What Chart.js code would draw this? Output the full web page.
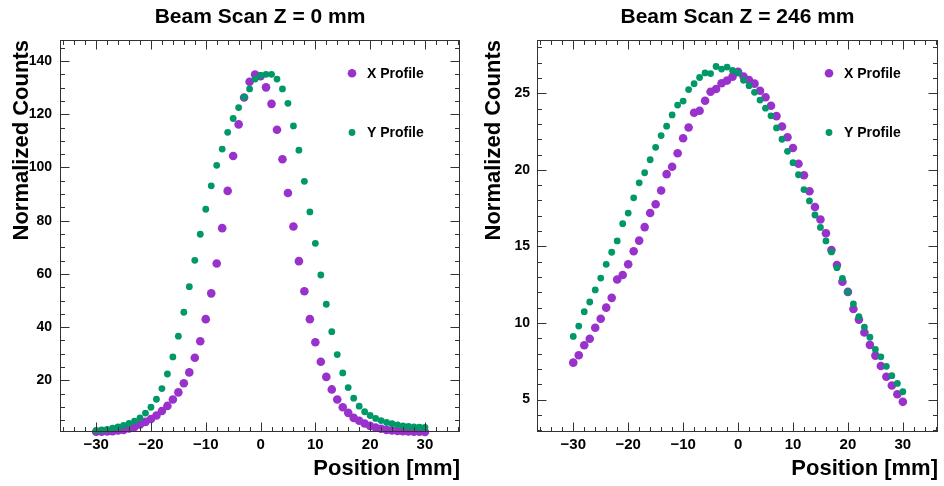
<!DOCTYPE html>
<html><head><meta charset="utf-8">
<script src="https://cdn.jsdelivr.net/npm/chart.js@4.4.1/dist/chart.umd.min.js"></script>
<style>
html,body{margin:0;padding:0;background:#fff;}
#wrap{display:flex;width:944px;height:486px;background:#fff;}
canvas{display:block;}
</style>
</head><body>
<div id="wrap"><canvas id="c0" width="472" height="486"></canvas><canvas id="c1" width="472" height="486"></canvas></div>
<script>
// ---------- data ----------
const positions = [-30,-29,-28,-27,-26,-25,-24,-23,-22,-21,-20,-19,-18,-17,-16,-15,-14,-13,-12,-11,-10,-9,-8,-7,-6,-5,-4,-3,-2,-1,0,1,2,3,4,5,6,7,8,9,10,11,12,13,14,15,16,17,18,19,20,21,22,23,24,25,26,27,28,29,30];

const xProfileZ0 = [0.7,0.7,0.8,0.9,1.2,1.4,1.9,2.5,3.4,4.4,5.5,6.8,8.5,10.4,12.8,15.5,18.9,23.0,28.5,34.7,43.0,52.7,63.9,77.2,91.2,104.3,116.2,126.3,132.2,134.9,134.3,130.1,123.9,114.2,103.1,90.4,77.8,64.8,53.5,43.0,34.3,27.0,21.3,16.6,12.8,9.9,7.8,5.9,4.8,3.8,2.9,2.3,1.8,1.4,1.2,1.0,0.9,0.8,0.7,0.7,0.6];
const yProfileZ0 = [1.2,1.4,1.6,2.0,2.5,3.1,3.8,4.7,5.9,7.7,9.9,12.9,16.9,22.4,28.8,36.6,45.6,55.2,65.1,74.9,84.3,93.1,100.8,106.9,113.2,118.4,122.5,126.4,129.5,133.2,134.6,135.0,135.0,133.2,129.5,124.1,115.6,106.5,94.8,83.3,71.5,59.6,48.6,38.3,29.7,22.8,17.3,13.3,10.3,8.2,6.8,5.7,4.9,4.2,3.7,3.3,2.9,2.7,2.5,2.4,2.3];

const xProfileZ246 = [7.41,7.89,8.55,8.97,9.69,10.28,11.0,11.64,12.84,13.13,13.83,14.68,15.38,16.26,17.18,17.75,18.65,19.72,20.2,21.08,22.06,22.77,23.73,23.86,24.51,25.1,25.28,25.66,25.83,26.09,26.4,26.1,25.87,25.63,25.17,24.74,24.19,23.51,22.83,22.13,21.43,20.4,19.65,18.6,17.57,16.76,15.86,14.77,13.78,12.69,12.03,10.91,10.22,9.38,8.57,7.87,7.19,6.49,5.92,5.35,4.85];
const yProfileZ246 = [9.12,9.8,10.74,11.37,12.16,12.93,13.83,14.62,15.36,16.48,17.18,18.17,19.15,19.81,20.66,21.47,22.24,22.85,23.59,24.23,24.49,25.24,25.63,26.03,26.33,26.29,26.75,26.58,26.71,26.49,26.33,25.85,25.5,25.06,24.56,24.03,23.53,22.74,22.0,21.21,20.47,19.68,18.71,17.97,17.05,16.24,15.36,14.64,13.61,12.91,12.03,11.24,10.41,9.73,9.07,8.27,7.79,7.17,6.56,6.05,5.51];

const seriesLabels = ['X Profile', 'Y Profile'];
const titles = ['Beam Scan Z = 0 mm', 'Beam Scan Z = 246 mm'];
const xAxisTitle = 'Position [mm]';
const yAxisTitle = 'Normalized Counts';

const xTicks = [-30,-20,-10,0,10,20,30];
const yTicksZ0 = [20,40,60,80,100,120,140];
const yTicksZ246 = [5,10,15,20,25];

// ---------- styling ----------
const FONT = '"Liberation Sans", Arial, Helvetica, sans-serif';
const PURPLE = '#9932cc';
const GREEN = '#009868';

const frameTicks = {
  id: 'frameTicks',
  afterDraw(chart, args, opts) {
    const {ctx, chartArea: a} = chart;
    const xs = chart.scales.x, ys = chart.scales.y;
    ctx.save();
    ctx.strokeStyle = '#333';
    ctx.lineWidth = 1;
    const L = Math.round(a.left) + 0.5, R = Math.round(a.right) - 0.5;
    const T = Math.round(a.top) + 0.5, B = Math.round(a.bottom) - 0.5;
    ctx.beginPath();
    const tx = (v, len) => {
      const p = Math.round(xs.getPixelForValue(v)) + 0.5;
      if (p < L || p > R) return;
      ctx.moveTo(p, B); ctx.lineTo(p, B - len);
      ctx.moveTo(p, T); ctx.lineTo(p, T + len);
    };
    const ty = (v, len) => {
      const p = Math.round(ys.getPixelForValue(v)) + 0.5;
      if (p < T || p > B) return;
      ctx.moveTo(L, p); ctx.lineTo(L + len, p);
      ctx.moveTo(R, p); ctx.lineTo(R - len, p);
    };
    const xsStep = opts.xMinorStep, ysStep = opts.yMinorStep;
    for (let v = Math.ceil(xs.min / xsStep) * xsStep; v <= xs.max; v += xsStep) tx(v, 4.5);
    for (let v = Math.ceil(ys.min / ysStep) * ysStep; v <= ys.max + 1e-9; v += ysStep) ty(v, 4.5);
    xs.ticks.forEach(t => tx(t.value, 9));
    ys.ticks.forEach(t => ty(t.value, 9));
    ctx.stroke();
    ctx.strokeRect(L, T, R - L, B - T);
    ctx.restore();
  }
};

const innerLegend = {
  id: 'innerLegend',
  afterDraw(chart, args, opts) {
    const {ctx, chartArea: a} = chart;
    ctx.save();
    ctx.font = 'bold 14px ' + FONT;
    ctx.textBaseline = 'middle';
    ctx.textAlign = 'left';
    const rows = [{ds: chart.data.datasets[1], dy: 33.3}, {ds: chart.data.datasets[0], dy: 92.5}];
    rows.forEach(r => {
      const cx = a.left + 292, cy = a.top + r.dy;
      ctx.fillStyle = r.ds.backgroundColor;
      ctx.beginPath(); ctx.arc(cx, cy, r.ds.pointRadius, 0, Math.PI * 2); ctx.fill();
      ctx.fillStyle = '#000';
      ctx.fillText(r.ds.label, a.left + 307, cy + 0.5);
    });
    ctx.restore();
  }
};

function makeChart(id, title, xData, yData, yMin, yMax, yTickList, yMinorStep, yAxisWidth, rightPad, yLabelPad) {
  const toPts = arr => positions.map((p, i) => ({x: p, y: arr[i]}));
  return new Chart(document.getElementById(id), {
    type: 'scatter',
    data: {
      datasets: [
        {label: seriesLabels[1], data: toPts(yData), backgroundColor: GREEN, pointRadius: 3.4, pointBorderWidth: 0, borderWidth: 0, order: 0, clip: false},
        {label: seriesLabels[0], data: toPts(xData), backgroundColor: PURPLE, pointRadius: 4.3, pointBorderWidth: 0, borderWidth: 0, order: 1, clip: false}
      ]
    },
    options: {
      responsive: false,
      animation: false,
      devicePixelRatio: 1,
      layout: {padding: {top: 0, left: 0, right: rightPad, bottom: 0}},
      plugins: {
        legend: {display: false},
        tooltip: {enabled: false},
        title: {display: true, text: title, fullSize: false, color: '#000',
                font: {family: FONT, size: 21, weight: 'bold', lineHeight: 1.2},
                padding: {top: 4.4, bottom: 10.4}},
        frameTicks: {xMinorStep: 2, yMinorStep: yMinorStep}
      },
      scales: {
        x: {
          type: 'linear', min: -36.6, max: 36.4,
          grid: {display: false, drawTicks: false},
          border: {display: false},
          afterBuildTicks: s => { s.ticks = xTicks.map(v => ({value: v})); },
          afterFit: s => { s.height = 54; s.paddingLeft = 0; s.paddingRight = 0; },
          ticks: {color: '#000', padding: 4, maxRotation: 0, autoSkip: false,
                  font: {family: FONT, size: 15, weight: 'bold'},
                  callback: v => String(v).replace('-', '\u2212')},
          title: {display: true, text: xAxisTitle, align: 'end', color: '#000',
                  font: {family: FONT, size: 22, weight: 'bold', lineHeight: 1.2},
                  padding: {top: 0, bottom: 4}}
        },
        y: {
          type: 'linear', min: yMin, max: yMax,
          grid: {display: false, drawTicks: false},
          border: {display: false},
          afterBuildTicks: s => { s.ticks = yTickList.map(v => ({value: v})); },
          afterFit: s => { s.width = yAxisWidth; s.paddingTop = 0; s.paddingBottom = 0; },
          ticks: {color: '#000', padding: yLabelPad, autoSkip: false,
                  font: {family: FONT, size: 14, weight: 'bold'}},
          title: {display: true, text: yAxisTitle, align: 'end', color: '#000',
                  font: {family: FONT, size: 22, weight: 'bold', lineHeight: 1.2},
                  padding: {top: 9, bottom: 0}}
        }
      }
    },
    plugins: [frameTicks, innerLegend]
  });
}

makeChart('c0', titles[0], xProfileZ0, yProfileZ0, 0.6, 147.9, yTicksZ0, 5, 60, 12, 8);
makeChart('c1', titles[1], xProfileZ246, yProfileZ246, 2.88, 28.48, yTicksZ246, 1, 65, 6, 7);
</script>
</body></html>
